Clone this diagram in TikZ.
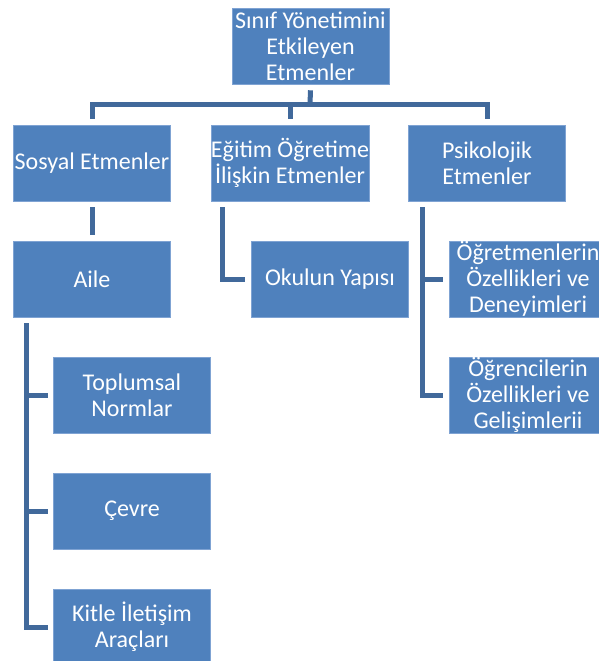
\documentclass[tikz,border=0pt]{standalone}
\usepackage{fontspec}
\setmainfont{Carlito}
\definecolor{boxfill}{HTML}{4F81BD}
\definecolor{boxedge}{HTML}{7FA3D3}
\definecolor{linkcol}{HTML}{41699B}
\begin{document}
\begin{tikzpicture}[x=1pt,y=-1pt,
  unit/.style={rectangle, fill=boxfill, draw=boxedge, line width=0.6pt,
    minimum width=157pt, minimum height=76pt, inner sep=0pt,
    text=white, align=center, font=\fontsize{24}{26}\selectfont},
  link/.style={draw=linkcol, line width=5pt}]
\useasboundingbox (0,0) rectangle (599,661);
\clip (0,0) rectangle (599,661);
\fill[white] (0,0) rectangle (599,661);

% top level
\node[unit] (top) at (310.5,46) {Sınıf Yönetimini\\Etkileyen\\Etmenler};

% second level
\node[unit] (sos) at (92,163) {Sosyal Etmenler};
\node[unit] (egt) at (290,163) {Eğitim Öğretime\\İlişkin Etmenler};
\node[unit] (psi) at (487,163) {Psikolojik\\Etmenler};

% third level
\node[unit] (aile) at (92,279) {Aile};
\node[unit] (okul) at (330,279) {Okulun Yapısı};
\node[unit] (ogrt) at (528,279) {Öğretmenlerin\\Özellikleri ve\\Deneyimleri};
\node[unit] (ogrc) at (528,395) {Öğrencilerin\\Özellikleri ve\\Gelişimlerii};

% family branch
\node[unit] (norm) at (132,395) {Toplumsal\\Normlar};
\node[unit] (cevre) at (132,511) {Çevre};
\node[unit] (kitle) at (132,627) {Kitle İletişim\\Araçları};

% connectors from the root
\coordinate (hub) at (310,104);
\draw[link] ([yshift=-6pt]top.south) -- (hub);
\draw[link] ([yshift=6pt]sos.north) |- (hub) -| ([yshift=6pt]psi.north);
\draw[link] (egt.north |- hub) -- ([yshift=6pt]egt.north);

% Sosyal -> Aile
\draw[link] ([yshift=-6pt]sos.south) -- ([yshift=6pt]aile.north);

% Eğitim -> Okulun Yapısı
\draw[link] ([xshift=12pt,yshift=-6pt]egt.south west) |- ([xshift=-6pt]okul.west);

% Psikolojik -> children
\coordinate (ps) at ([xshift=14pt,yshift=-6pt]psi.south west);
\draw[link] (ps) |- ([xshift=-6pt]ogrc.west);
\draw[link] (ps |- ogrt.west) -- ([xshift=-6pt]ogrt.west);

% Aile -> children
\coordinate (al) at ([xshift=13pt,yshift=-6pt]aile.south west);
\draw[link] (al) |- ([xshift=-5pt]kitle.west);
\draw[link] (al |- norm.west) -- ([xshift=-5pt]norm.west);
\draw[link] (al |- cevre.west) -- ([xshift=-5pt]cevre.west);
\end{tikzpicture}
\end{document}
